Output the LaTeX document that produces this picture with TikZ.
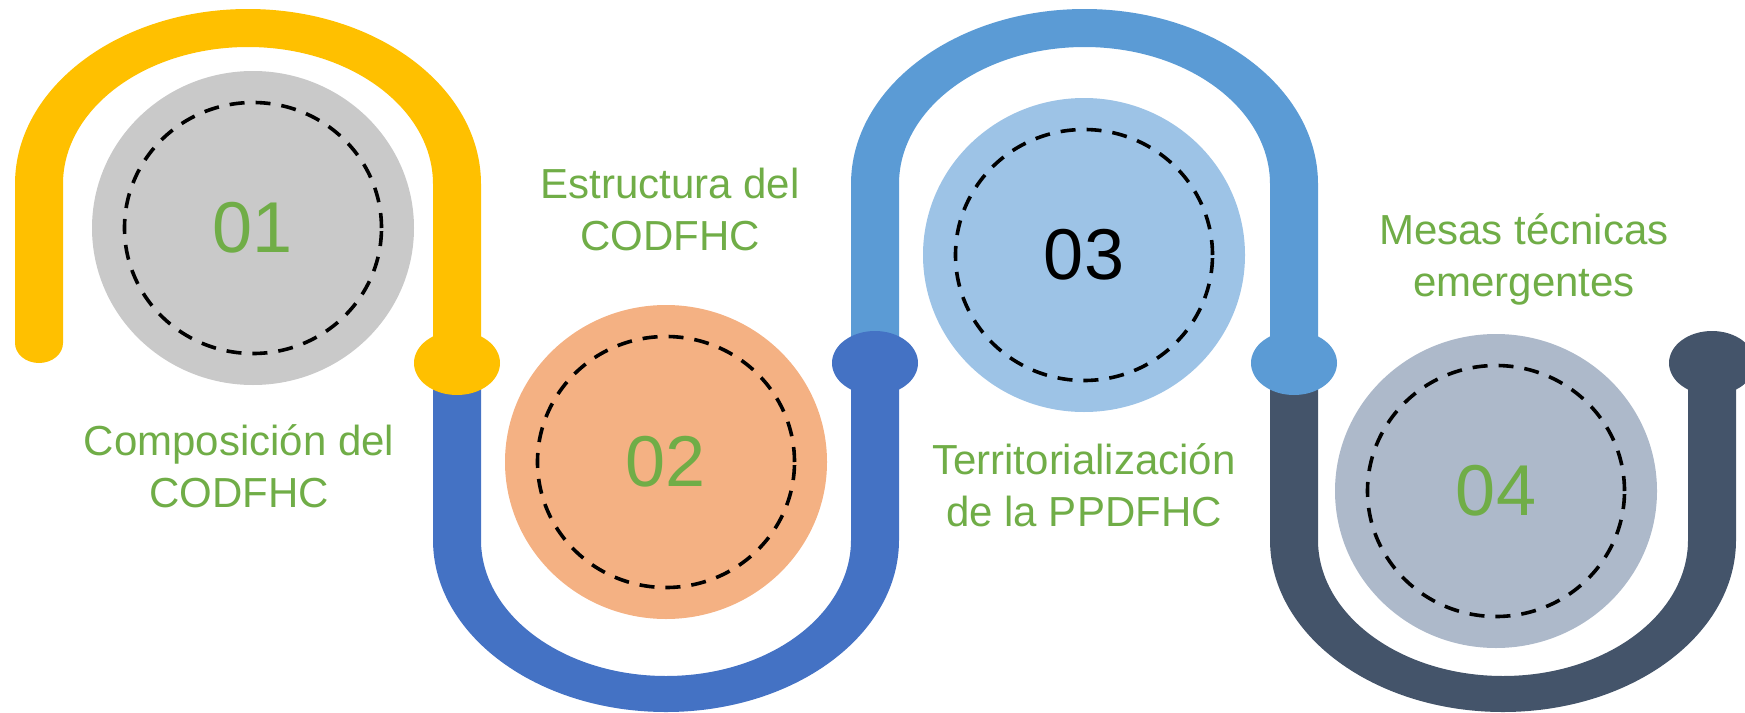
\documentclass[tikz,border=0pt]{standalone}
\usepackage{fontspec}
\setmainfont{Liberation Sans}
\usetikzlibrary{shapes.geometric}

\definecolor{ambar}{HTML}{FFC000}
\definecolor{azul}{HTML}{4472C4}
\definecolor{celeste}{HTML}{5B9BD5}
\definecolor{pizarra}{HTML}{44546A}
\definecolor{gris}{HTML}{C9C9C9}
\definecolor{salmon}{HTML}{F4B183}
\definecolor{cielo}{HTML}{9DC3E6}
\definecolor{niebla}{HTML}{ADB9CA}
\definecolor{hoja}{HTML}{70AD47}

\tikzset{
  disco/.style={ellipse, inner sep=0pt, minimum width=322pt, minimum height=314pt},
  anillo/.style={ellipse, draw=black, line width=3.6pt, dash pattern=on 15pt off 11pt,
    inner sep=0pt, minimum width=257pt, minimum height=251pt,
    font=\fontsize{72}{72}\selectfont},
  union/.style={ellipse, inner sep=0pt, minimum width=86pt, minimum height=64pt},
  rotulo/.style={text=hoja, align=center, anchor=north, inner sep=0pt,
    font=\fontsize{42}{52}\selectfont}
}

\begin{document}
\begin{tikzpicture}[x=1pt, y=1pt]
        \useasboundingbox (0,0) rectangle (1745,-712);

        % bands
        \fill[ambar] (15,-343) -- (15,-184) arc[start angle=180, end angle=0, x radius=233, y radius=175]
            -- (481,-363) -- (433,-363) -- (433,-184) arc[start angle=0, end angle=180, x radius=185, y radius=137]
            -- (63,-343) arc[start angle=0, end angle=-180, x radius=24, y radius=20] -- cycle;
        \fill[azul] (433,-363) -- (433,-540) arc[start angle=180, end angle=360, x radius=233, y radius=172]
            -- (899,-363) -- (851,-363) -- (851,-540) arc[start angle=0, end angle=-180, x radius=185, y radius=136]
            -- (481,-363) -- cycle;
        \fill[celeste] (851,-363) -- (851,-184) arc[start angle=180, end angle=0, x radius=233.5, y radius=175]
            -- (1318,-363) -- (1270,-363) -- (1270,-184) arc[start angle=0, end angle=180, x radius=185.5, y radius=137]
            -- (899,-363) -- cycle;
        \fill[pizarra] (1270,-363) -- (1270,-540) arc[start angle=180, end angle=360, x radius=233, y radius=172]
            -- (1736,-363) -- (1688,-363) -- (1688,-540) arc[start angle=0, end angle=-180, x radius=185, y radius=136]
            -- (1318,-363) -- cycle;

        % joints
        \node[union, fill=ambar] (j1) at (457,-363) {};
        \node[union, fill=azul] (j2) at (875,-363) {};
        \node[union, fill=celeste] (j3) at (1294,-363) {};
        \node[union, fill=pizarra] (j4) at (1712,-363) {};

        % circles
        \node[disco, fill=gris] (c1) at (253,-228) {};
        \node[anillo, text=hoja] (r1) at (c1) {01};

        \node[disco, fill=salmon] (c2) at (666,-462) {};
        \node[anillo, text=hoja] (r2) at (c2) {02};

        \node[disco, fill=cielo] (c3) at (1084,-255) {};
        \node[anillo, text=black] (r3) at (c3) {03};

        \node[disco, fill=niebla] (c4) at (1496,-491) {};
        \node[anillo, text=hoja] (r4) at (c4) {04};

        % labels
        \node[rotulo] (t1) at (239,-424) {Composición del\\CODFHC};
        \node[rotulo] (t2) at (670,-168) {Estructura del\\CODFHC};
        \node[rotulo] (t3) at (1084,-443) {Territorialización\\de la PPDFHC};
        \node[rotulo] (t4) at (1524,-213) {Mesas técnicas\\emergentes};
      \end{tikzpicture}
\end{document}
